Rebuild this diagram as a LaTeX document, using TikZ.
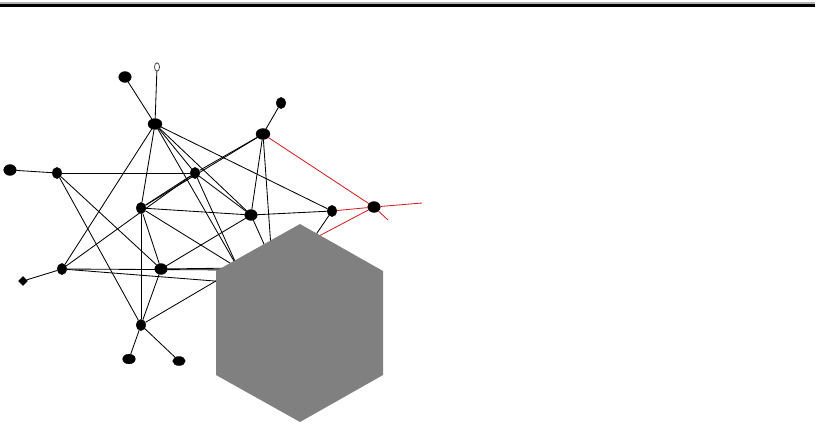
\documentclass[tikz,border=0pt]{standalone}
\usetikzlibrary{shapes.geometric}
\definecolor{hexgray}{RGB}{128,128,128}
\definecolor{edgered}{RGB}{215,30,35}

\begin{document}
\begin{tikzpicture}[
	x=0.025cm, y=-0.025cm,
	vertex/.style={ ellipse, draw, very thin, fill, inner sep=0pt, minimum width=9pt, minimum height=7.8pt },
	vertexs/.style={ ellipse, draw, very thin, fill, inner sep=0pt, minimum width=7pt, minimum height=8pt },
	vertexo/.style={ ellipse, draw, thin, fill=white, inner sep=0pt, minimum width=3.5pt, minimum height=6pt },
	vertexh/.style={ inner sep=0pt, minimum size=0pt },
	edge/.style={ line width=0.6pt },
	edger/.style={ line width=0.6pt, edgered }
]
\useasboundingbox (0,0) rectangle (820,436);

% rule along the top
\draw[gray!60, line width=0.8pt] (0,3) -- (815,3);
\draw[line width=1.8pt] (0,5.5) -- (815,5.5);

% nodes hidden behind the hexagon
\node at (238,268) (h1) [vertexh] {};
\node at (272,262) (h2) [vertexh] {};
\node at (300,258) (h3) [vertexh] {};
\node at (300,246) (h4) [vertexh] {};
\node at (240,270) (h7) [vertexh] {};
\node at (240,283) (h8) [vertexh] {};

\node at (157,67) (vA) [vertexo] {};
\node at (125,77) (vB) [vertex] {};
\node at (155,124) (vC) [vertex,minimum width=10pt] {};
\node at (10,170) (vD) [vertex] {};
\node at (57,173) (vE) [vertexs] {};
\node at (195,173) (vF) [vertexs] {};
\node at (141,208) (vG) [vertexs] {};
\node at (251,215) (vH) [vertex] {};
\node at (332,211) (vI) [vertexs] {};
\node at (374,207) (vJ) [vertex] {};
\node at (263,134) (vK) [vertex,minimum width=10pt] {};
\node at (281,103) (vL) [vertexs] {};
\node at (62,269) (vM) [vertexs] {};
\node at (23,281) (vN) [diamond, draw, very thin, fill, inner sep=0pt, minimum size=6.5pt] {};
\node at (161,269) (vO) [vertex] {};
\node at (141,325) (vP) [vertexs] {};
\node at (129,359) (vQ) [vertex,minimum height=7pt] {};
\node at (179,361) (vR) [vertex,minimum height=6.5pt] {};

\coordinate (r1) at (388,220);
\coordinate (r2) at (422,203);

\draw[edge] (vA) to (vC);
\draw[edge] (vB) to (vC);
\draw[edge] (vC) to (vM);
\draw[edge] (vC) to (vG);
\draw[edge] (vC) to (vF);
\draw[edge] (vC) to (vI);
\draw[edge] (vC) to (vH);
\draw[edge] (vC) to (h1);

\draw[edge] (vD) to (vE);
\draw[edge] (vE) to (vF);
\draw[edge] (vE) to (vP);
\draw[edge] (vE) to (vO);

\draw[edge] (vF) to (vK);
\draw[edge] (vF) to (vG);
\draw[edge] (vF) to (vH);
\draw[edge] (vF) to (h1);
\draw[edge] (vF) to (vM);

\draw[edge] (vG) to (vH);
\draw[edge] (vG) to (vK);
\draw[edge] (vG) to (vO);
\draw[edge] (vG) to (vP);
\draw[edge] (vG) to (h1);

\draw[edge] (vH) to (vI);
\draw[edge] (vH) to (vK);
\draw[edge] (vH) to (vO);
\draw[edge] (vH) to (h2);

\draw[edge] (vK) to (vL);
\draw[edge] (vK) to (h2);
\draw[edge] (vI) to (h3);

\draw[edge] (vM) to (vN);
\draw[edge] (vM) to (h7);
\draw[edge] (vM) to (h8);
\draw[edge] (vO) to (vP);
\draw[edge] (vO) to (h1);
\draw[edge] (vP) to (vQ);
\draw[edge] (vP) to (vR);
\draw[edge] (vP) to (h1);

% red edges at the right
\draw[edger] (vK) to (vJ) -- (r1);
\draw[edger] (vI) to (vJ) -- (r2);
\draw[edger] (vJ) to (h4);

% the hexagon on top
\fill[hexgray] (300,224) -- (383,271) -- (383,375) -- (300,422) -- (216,375) -- (216,271) -- cycle;

\end{tikzpicture}
\end{document}
